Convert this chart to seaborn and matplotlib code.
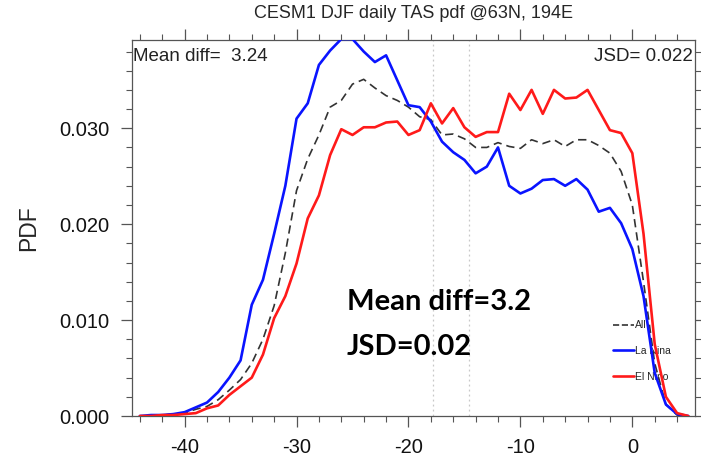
import matplotlib
matplotlib.use("Agg")
import matplotlib.pyplot as plt
import seaborn as sns
import pandas as pd
from matplotlib.ticker import MultipleLocator, FormatStrFormatter
from matplotlib.lines import Line2D

temps = [-44, -43, -42, -41, -40, -39, -38, -37, -36, -35,
         -34, -33, -32, -31, -30, -29, -28, -27, -26, -25,
         -24, -23, -22, -21, -20, -19, -18, -17, -16, -15,
         -14, -13, -12, -11, -10, -9, -8, -7, -6, -5,
         -4, -3, -2, -1, 0, 1, 2, 3, 4, 5]

pdf_all = [0.0000, 0.0000, 0.0001, 0.0002, 0.0003, 0.0007, 0.0010, 0.0017, 0.0027, 0.0038,
           0.0055, 0.0080, 0.0115, 0.0170, 0.0235, 0.0268, 0.0293, 0.0322, 0.0329, 0.0346,
           0.0351, 0.0342, 0.0334, 0.0329, 0.0322, 0.0312, 0.0309, 0.0293, 0.0294, 0.0289,
           0.0280, 0.0280, 0.0285, 0.0281, 0.0279, 0.0288, 0.0284, 0.0288, 0.0281, 0.0288,
           0.0288, 0.0282, 0.0274, 0.0255, 0.0220, 0.0140, 0.0055, 0.0012, 0.0001, 0.0000]

pdf_lanina = [0.0000, 0.0001, 0.0001, 0.0002, 0.0004, 0.0009, 0.0014, 0.0025, 0.0040, 0.0058,
              0.0116, 0.0142, 0.0190, 0.0240, 0.0310, 0.0326, 0.0366, 0.0381, 0.0393, 0.0393,
              0.0380, 0.0369, 0.0376, 0.0350, 0.0324, 0.0322, 0.0307, 0.0286, 0.0275, 0.0267,
              0.0253, 0.0260, 0.0280, 0.0240, 0.0232, 0.0237, 0.0246, 0.0247, 0.0240, 0.0247,
              0.0236, 0.0213, 0.0217, 0.0201, 0.0174, 0.0125, 0.0045, 0.0012, 0.0002, 0.0000]

pdf_elnino = [0.0000, 0.0000, 0.0001, 0.0001, 0.0002, 0.0003, 0.0008, 0.0011, 0.0022, 0.0031,
              0.0040, 0.0064, 0.0102, 0.0125, 0.0159, 0.0206, 0.0230, 0.0272, 0.0299, 0.0293,
              0.0301, 0.0301, 0.0306, 0.0307, 0.0293, 0.0298, 0.0326, 0.0305, 0.0321, 0.0301,
              0.0291, 0.0296, 0.0296, 0.0336, 0.0319, 0.0340, 0.0315, 0.0340, 0.0331, 0.0332,
              0.0340, 0.0319, 0.0298, 0.0295, 0.0274, 0.0190, 0.0075, 0.0020, 0.0003, 0.0000]

series_names = ["All", "La Nina", "El Nino"]
mean_lines = [-17.8, -14.6]

title = "CESM1 DJF daily TAS pdf @63N, 194E"
mean_diff_small = "Mean diff=  3.24"
jsd_small = "JSD= 0.022"
big_mean = "Mean diff=3.2"
big_jsd = "JSD=0.02"

df = pd.DataFrame({
    "T": temps * 3,
    "pdf": pdf_all + pdf_lanina + pdf_elnino,
    "group": [series_names[0]] * len(temps) + [series_names[1]] * len(temps) + [series_names[2]] * len(temps),
})

sns.set_style("ticks")
plt.rcParams["font.family"] = ["Liberation Sans", "DejaVu Sans"]
plt.rcParams["axes.unicode_minus"] = False

fig = plt.figure(figsize=(7.01, 4.68), dpi=100)
ax = fig.add_axes([132 / 701, 1 - 416 / 468, (695 - 132) / 701, (416 - 40) / 468])

for xm in mean_lines:
    ax.axvline(xm, color="#c8c8c8", lw=0.9, ls=(0, (1.5, 2.5)), zorder=1)

palette = {"All": "#333333", "La Nina": "#0a14ff", "El Nino": "#ff1a1a"}
dashes = {"All": (5, 3), "La Nina": "", "El Nino": ""}
sizes = {"All": 1.2, "La Nina": 1.9, "El Nino": 1.9}
sns.lineplot(data=df, x="T", y="pdf", hue="group", style="group", size="group",
             palette=palette, dashes=dashes, sizes=sizes,
             hue_order=series_names, style_order=series_names, size_order=series_names,
             ax=ax, legend=False, zorder=3)

ax.set_xlim(-44.7, 5.6)
ax.set_ylim(0, 0.0392)
ax.xaxis.set_major_locator(MultipleLocator(10))
ax.xaxis.set_minor_locator(MultipleLocator(2))
ax.yaxis.set_major_locator(MultipleLocator(0.01))
ax.yaxis.set_minor_locator(MultipleLocator(0.002))
ax.yaxis.set_major_formatter(FormatStrFormatter("%.3f"))
ax.tick_params(which="both", direction="out", top=True, right=True, color="#555555")
ax.tick_params(which="major", length=8, width=0.9, labelsize=14.5, pad=8, labelcolor="#111111")
ax.tick_params(which="minor", length=4, width=0.8)
for s in ax.spines.values():
    s.set_color("#555555")
    s.set_linewidth(0.9)

ax.set_xlabel("")
ax.set_ylabel("PDF", fontsize=16.5, labelpad=14)
fig.text(413 / 701, 1 - 13 / 468, title, ha="center", va="center", fontsize=13)

ax.text(0.002, 0.955, mean_diff_small, transform=ax.transAxes, ha="left", va="center",
        fontsize=13.5, color="#222222")
ax.text(0.997, 0.955, jsd_small, transform=ax.transAxes, ha="right", va="center",
        fontsize=13.5, color="#222222")

ax.text(-25.5, 0.0119, big_mean, ha="left", va="center", fontsize=21,
        fontweight="bold", family=["Lato", "DejaVu Sans"], color="black")
ax.text(-25.5, 0.0072, big_jsd, ha="left", va="center", fontsize=21,
        fontweight="bold", family=["Lato", "DejaVu Sans"], color="black")

handles = [Line2D([], [], color=palette[n], lw=sizes[n],
                  ls="--" if n == "All" else "-") for n in series_names]
leg = ax.legend(handles, series_names, loc="upper left", bbox_to_anchor=(0.845, 0.268),
                frameon=False, fontsize=7.5, handlelength=2.0, handletextpad=0.1,
                labelspacing=1.5, borderpad=0)
leg.set_zorder(2)

fig.savefig("out.png", dpi=100)
